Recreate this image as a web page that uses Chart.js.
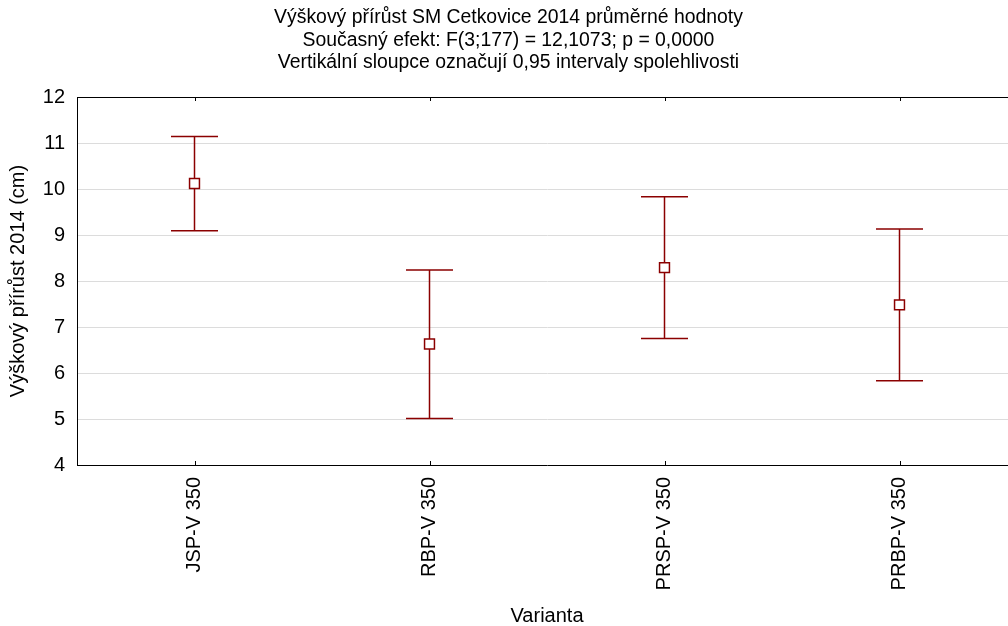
<!DOCTYPE html>
<html>
<head>
<meta charset="utf-8">
<script src="https://cdn.jsdelivr.net/npm/chart.js@4.4.1/dist/chart.umd.min.js"></script>
<style>
  html, body { margin: 0; padding: 0; background: #fff; }
  #frame { width: 1008px; height: 626px; overflow: hidden; }
  #wide { width: 1030px; height: 626px; }
</style>
</head>
<body>
<div id="frame"><div id="wide"><canvas id="c" width="1030" height="626"></canvas></div></div>
<script>
// Mean height increment per variant with 95 % confidence limits
const categories = ['JSP-V 350', 'RBP-V 350', 'PRSP-V 350', 'PRBP-V 350'];
const means   = [10.12, 6.63, 8.29, 7.48];
const lowerCI = [9.09, 5.01, 6.75, 5.83];
const upperCI = [11.14, 8.24, 9.83, 9.13];
const yTicks  = [4, 5, 6, 7, 8, 9, 10, 11, 12];

const FONT = "'Liberation Sans', Arial, sans-serif";
const MARK = '#8b0000';

// Whiskers, plot frame and inward category ticks
const errorBars = {
  id: 'errorBars',
  beforeDatasetsDraw(chart) {
    const { ctx, scales: { x, y } } = chart;
    ctx.save();
    ctx.strokeStyle = MARK;
    ctx.lineWidth = 1.5;
    const cap = 23.5;
    categories.forEach((c, i) => {
      const px = x.getPixelForValue(i);
      const lo = y.getPixelForValue(lowerCI[i]);
      const hi = y.getPixelForValue(upperCI[i]);
      ctx.beginPath();
      ctx.moveTo(px, lo); ctx.lineTo(px, hi);
      ctx.moveTo(px - cap, lo); ctx.lineTo(px + cap, lo);
      ctx.moveTo(px - cap, hi); ctx.lineTo(px + cap, hi);
      ctx.stroke();
    });
    ctx.restore();
  },
  afterDraw(chart) {
    const { ctx, chartArea: a, scales: { x } } = chart;
    ctx.save();
    ctx.strokeStyle = '#000';
    ctx.lineWidth = 1;
    ctx.beginPath();
    ctx.moveTo(a.left, a.top + 0.5); ctx.lineTo(a.right, a.top + 0.5);
    categories.forEach((c, i) => {
      const px = Math.round(x.getPixelForValue(i)) + 0.5;
      ctx.moveTo(px, a.bottom); ctx.lineTo(px, a.bottom - 4);
      ctx.moveTo(px, a.top); ctx.lineTo(px, a.top + 4);
    });
    ctx.stroke();
    ctx.restore();
  }
};

new Chart(document.getElementById('c'), {
  type: 'line',
  data: {
    labels: categories,
    datasets: [{
      data: means,
      showLine: false,
      pointStyle: 'rect',
      pointRadius: 7,
      pointHoverRadius: 7,
      pointBorderWidth: 1.5,
      pointBorderColor: MARK,
      pointBackgroundColor: '#ffffff'
    }]
  },
  options: {
    responsive: false,
    animation: false,
    layout: { padding: { left: 0, right: 13, top: 0, bottom: 0 } },
    plugins: {
      legend: { display: false },
      tooltip: { enabled: false },
      title: {
        display: true,
        text: [
          'Výškový přírůst SM Cetkovice 2014 průměrné hodnoty',
          'Současný efekt: F(3;177) = 12,1073; p = 0,0000',
          'Vertikální sloupce označují 0,95 intervaly spolehlivosti'
        ],
        color: '#000',
        font: { family: FONT, size: 19.4, weight: 'normal', lineHeight: 1.16 },
        padding: { top: 6.5, bottom: 23 }
      }
    },
    scales: {
      x: {
        type: 'category',
        offset: true,
        grid: { display: false, drawTicks: false },
        border: { display: true, color: '#000', width: 1 },
        ticks: {
          color: '#000',
          font: { family: FONT, size: 20 },
          minRotation: 90,
          maxRotation: 90,
          padding: 12
        },
        title: {
          display: true,
          text: 'Varianta',
          color: '#000',
          font: { family: FONT, size: 20, lineHeight: 1 },
          padding: { top: 0, bottom: 0 }
        },
        afterFit(scale) { scale.height = 161; }
      },
      y: {
        min: 4,
        max: 12,
        afterBuildTicks(scale) { scale.ticks = yTicks.map(v => ({ value: v })); },
        grid: { color: '#dcdcdc', lineWidth: 1, drawTicks: false },
        border: { display: true, color: '#000', width: 1 },
        ticks: {
          color: '#000',
          font: { family: FONT, size: 20 },
          padding: 12
        },
        title: {
          display: true,
          text: 'Výškový přírůst 2014 (cm)',
          color: '#000',
          font: { family: FONT, size: 20, lineHeight: 1.2 },
          padding: { top: 6, bottom: 0 }
        },
        afterFit(scale) { scale.width = 77; }
      }
    }
  },
  plugins: [errorBars]
});
</script>
</body>
</html>
